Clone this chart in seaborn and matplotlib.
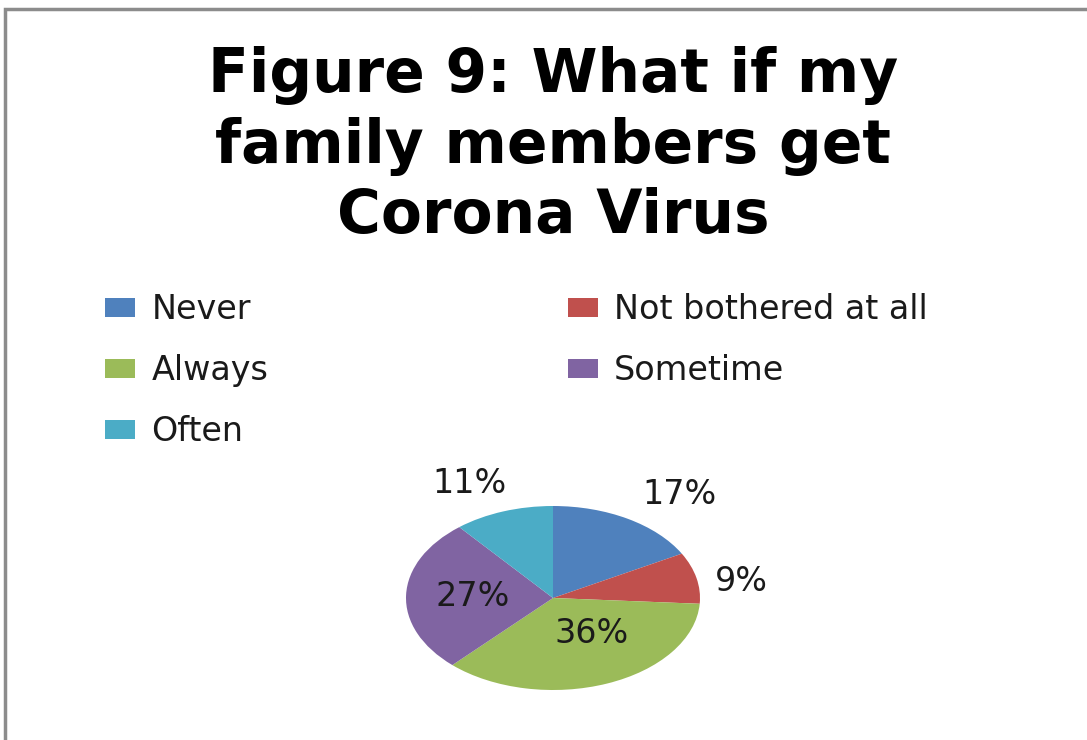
import matplotlib
matplotlib.use("Agg")
import matplotlib.pyplot as plt
from matplotlib.patches import Rectangle, Patch
import numpy as np
import seaborn as sns

# Survey answers for "What if my family members get Corona Virus"
categories = ["Never", "Not bothered at all", "Always", "Sometime", "Often"]
shares = [17, 9, 36, 27, 11]
colors = ["#4F81BD", "#C0504D", "#9BBB59", "#8064A2", "#4BACC6"]
title_lines = ["Figure 9: What if my", "family members get", "Corona Virus"]

sns.set_theme(style="white")
plt.rcParams["font.family"] = ["DejaVu Sans"]

W, H = 1087, 740
fig = plt.figure(figsize=(W / 100, H / 100), dpi=100)
fig.patch.set_facecolor("white")

# outer chart frame (top and left edges visible)
fig.patches.append(Rectangle((5 / W, -0.1), 1.2, (H - 9) / H + 0.1,
                             transform=fig.transFigure, fill=False,
                             edgecolor="#8c8c8c", linewidth=2.5))

# title, three centred lines
fig.text(553 / W, 1 - 146 / H, "\n".join(title_lines), ha="center", va="center",
         fontsize=43, fontweight="bold", color="black", linespacing=1.26)

# pie axes: the drawn pie is an ellipse (wider than tall)
cx, cy, rx, ry = 553, 598, 147, 92
ax = fig.add_axes([(cx - rx) / W, (H - cy - ry) / H, 2 * rx / W, 2 * ry / H])
palette = sns.color_palette(colors)
wedges, _ = ax.pie(shares, colors=palette, startangle=90, counterclock=False,
                   radius=1.0, wedgeprops=dict(linewidth=0))
ax.set_aspect("auto")
ax.set_xlim(-1, 1)
ax.set_ylim(-1, 1)
ax.axis("off")

# percentage labels along each wedge's mid angle (separate x / y distances)
label_dx = [1.69, 1.31, 0.72, 0.55, 1.67]
label_dy = [1.31, 0.80, 0.42, 0.60, 1.32]
for w, v, kx, ky in zip(wedges, shares, label_dx, label_dy):
    mid = np.deg2rad((w.theta1 + w.theta2) / 2)
    ax.text(kx * np.cos(mid), ky * np.sin(mid), f"{v}%", ha="center", va="center",
            fontsize=24, color="#1a1a1a", clip_on=False)

# legend in two columns, filled row by row
handles = [Patch(facecolor=c, edgecolor="none") for c in palette]
order = [0, 2, 4, 1, 3]
leg = fig.legend([handles[i] for i in order], [categories[i] for i in order],
                 ncol=2, loc="upper left", bbox_to_anchor=(82 / W, 1 - 270 / H),
                 frameon=False, fontsize=24, handlelength=0.9, handleheight=0.54,
                 handletextpad=0.48, columnspacing=9.0, labelspacing=0.84,
                 borderpad=0.2)
for t in leg.get_texts():
    t.set_color("#1a1a1a")

fig.savefig("out.png", dpi=100, facecolor="white")
